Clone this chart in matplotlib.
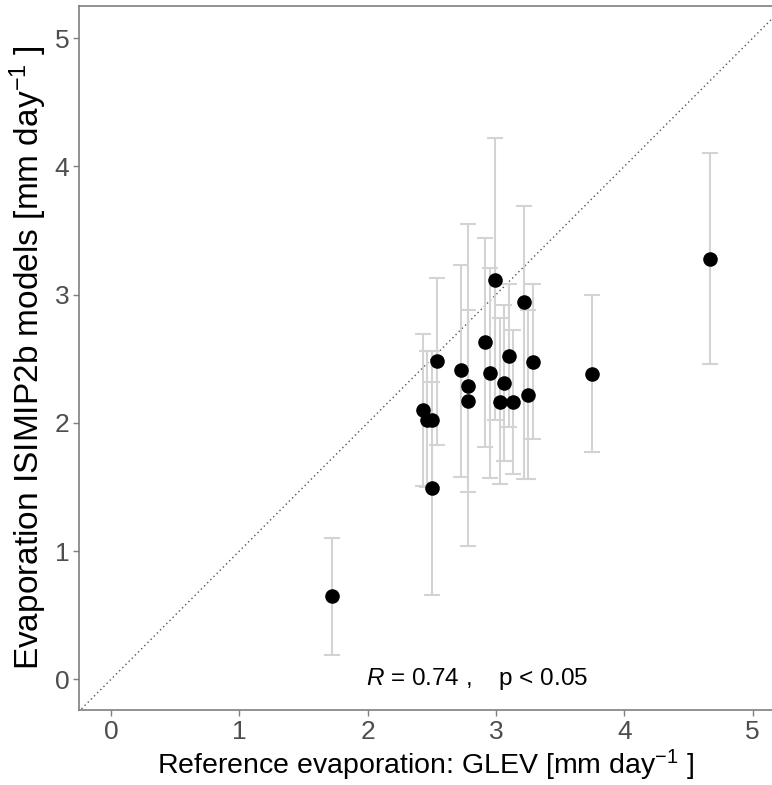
import numpy as np
import matplotlib
matplotlib.use("Agg")
import matplotlib.pyplot as plt

plt.rcParams['font.family'] = ['Liberation Sans', 'DejaVu Sans']
plt.rcParams['mathtext.fontset'] = 'custom'
plt.rcParams['mathtext.rm'] = 'Liberation Sans'
plt.rcParams['mathtext.it'] = 'Liberation Sans:italic'

# GLEV reference evaporation vs. ISIMIP2b ensemble mean (mm/day)
glev = [1.72, 4.67, 3.75, 2.43, 2.46, 2.50, 2.50, 2.54, 2.73, 2.78, 2.78,
        2.91, 2.99, 2.95, 3.06, 3.03, 3.10, 3.13, 3.22, 3.25, 3.29]
isimip = [0.65, 3.28, 2.38, 2.10, 2.02, 2.02, 1.49, 2.48, 2.41, 2.29, 2.17,
          2.63, 3.11, 2.39, 2.31, 2.16, 2.52, 2.16, 2.94, 2.22, 2.47]
# model spread (max / min across models)
isimip_hi = [1.10, 4.10, 3.00, 2.69, 2.56, 2.32, 2.56, 3.13, 3.23, 3.55, 2.88,
             3.44, 4.22, 3.21, 2.92, 2.82, 3.08, 2.72, 3.69, 2.88, 3.08]
isimip_lo = [0.19, 2.46, 1.77, 1.51, 1.50, 1.50, 0.66, 1.83, 1.58, 1.04, 1.46,
             1.81, 2.02, 1.57, 1.70, 1.52, 1.97, 1.60, 1.56, 1.56, 1.87]

ticks = [0, 1, 2, 3, 4, 5]
r_value = 0.74

x = np.array(glev)
y = np.array(isimip)
yerr = [y - np.array(isimip_lo), np.array(isimip_hi) - y]

fig = plt.figure(figsize=(7.72, 7.85), dpi=100)
ax = fig.add_axes([0.1023, 0.0955, 0.8977, 0.8969])

# 1:1 line
ax.plot([-0.5, 6], [-0.5, 6], linestyle=(0, (1, 2.2)), color='#555555',
        linewidth=1.0, zorder=1)
ax.errorbar(x, y, yerr=yerr, fmt='none', ecolor='#d3d3d3', elinewidth=1.5,
            capsize=6, capthick=1.5, zorder=2)
ax.scatter(x, y, s=110, color='black', zorder=3, linewidths=0)

ax.text(2.855, 0.0, r'$\mathit{R}$ = %.2f ,    p < 0.05' % r_value, ha='center',
        va='center', fontsize=17.5, color='black')

ax.set_xlim(-0.25, 5.15)
ax.set_ylim(-0.24, 5.25)
ax.set_xticks(ticks)
ax.set_yticks(ticks)
ax.tick_params(axis='both', labelsize=19, labelcolor='#4d4d4d', color='#7f7f7f',
               length=4, width=1, pad=3)

for side in ['left', 'bottom', 'top']:
    ax.spines[side].set_color('#7f7f7f')
    ax.spines[side].set_linewidth(1.2)
ax.spines['right'].set_visible(False)

ax.set_xlabel(r'Reference evaporation: GLEV [mm day$^{-1}$ ]', fontsize=20.5, labelpad=3)
ax.set_ylabel(r'Evaporation ISIMIP2b models [mm day$^{-1}$ ]', fontsize=24, labelpad=4)

fig.savefig('out.png', dpi=100)
